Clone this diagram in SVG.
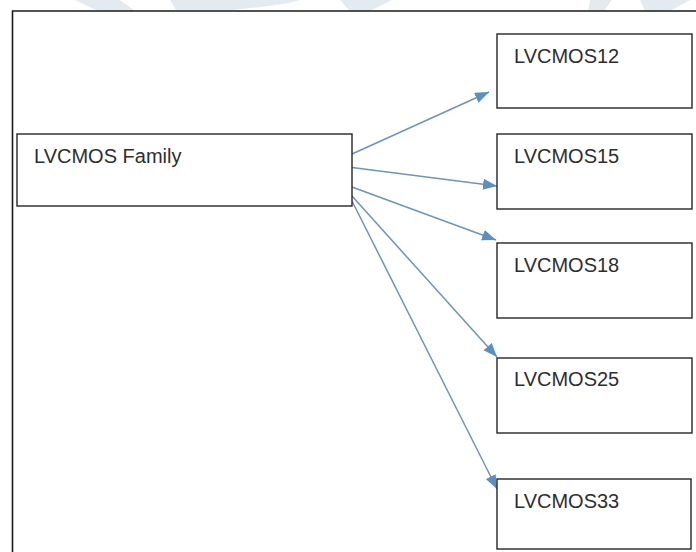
<svg xmlns="http://www.w3.org/2000/svg" width="696" height="552" viewBox="0 0 696 552">
<defs>
<style>
.box{fill:#fff;stroke:#262626;stroke-width:1.4}
.lbl{font-family:"Liberation Sans",Arial,sans-serif;font-size:20px;fill:#2e2e2e}
.con{stroke:#6e94bb;stroke-width:1.5;fill:none;marker-end:url(#ah)}
.wm{fill:#e3ebf0}
</style>
<marker id="ah" markerUnits="userSpaceOnUse" markerWidth="16" markerHeight="12" refX="14" refY="5.5" orient="auto">
<path d="M0,0 L14,5.5 L0,11 z" fill="#5a8fc6"/>
</marker>
</defs>
<rect width="696" height="552" fill="#fff"/>
<g id="watermark">
<path class="wm" d="M75,0 L120,0 L135,11 L98,11 z"/>
<path class="wm" d="M170,0 L176,10 L230,10 Q280,6 300,0 z"/>
<path class="wm" d="M340,0 L392,0 L370,11 L350,11 z"/>
<path class="wm" d="M590,0 L612,0 L604,11 L588,11 z"/>
<path class="wm" d="M640,0 L690,0 L670,11 L645,11 z"/>
</g>
<path d="M12.5,552 V11 H696" fill="none" stroke="#1a1a1a" stroke-width="1.6"/>
<g id="connectors">
<line class="con" x1="352" y1="154" x2="489" y2="92"/>
<line class="con" x1="352" y1="167.5" x2="497" y2="186"/>
<line class="con" x1="352" y1="187" x2="496" y2="240"/>
<line class="con" x1="352" y1="196" x2="497" y2="357"/>
<line class="con" x1="352" y1="201" x2="497" y2="489"/>
</g>
<g id="family">
<rect class="box" x="17" y="134" width="335" height="72"/>
<text class="lbl" x="34" y="163">LVCMOS Family</text>
</g>
<g id="lvcmos12">
<rect class="box" x="497" y="34" width="195" height="74"/>
<text class="lbl" x="514" y="63">LVCMOS12</text>
</g>
<g id="lvcmos15">
<rect class="box" x="497" y="134" width="195" height="75"/>
<text class="lbl" x="514" y="163">LVCMOS15</text>
</g>
<g id="lvcmos18">
<rect class="box" x="497" y="243" width="195" height="75"/>
<text class="lbl" x="514" y="272">LVCMOS18</text>
</g>
<g id="lvcmos25">
<rect class="box" x="497" y="358" width="195" height="75"/>
<text class="lbl" x="514" y="386">LVCMOS25</text>
</g>
<g id="lvcmos33">
<rect class="box" x="497" y="479" width="194" height="70"/>
<text class="lbl" x="514" y="508">LVCMOS33</text>
</g>
</svg>
